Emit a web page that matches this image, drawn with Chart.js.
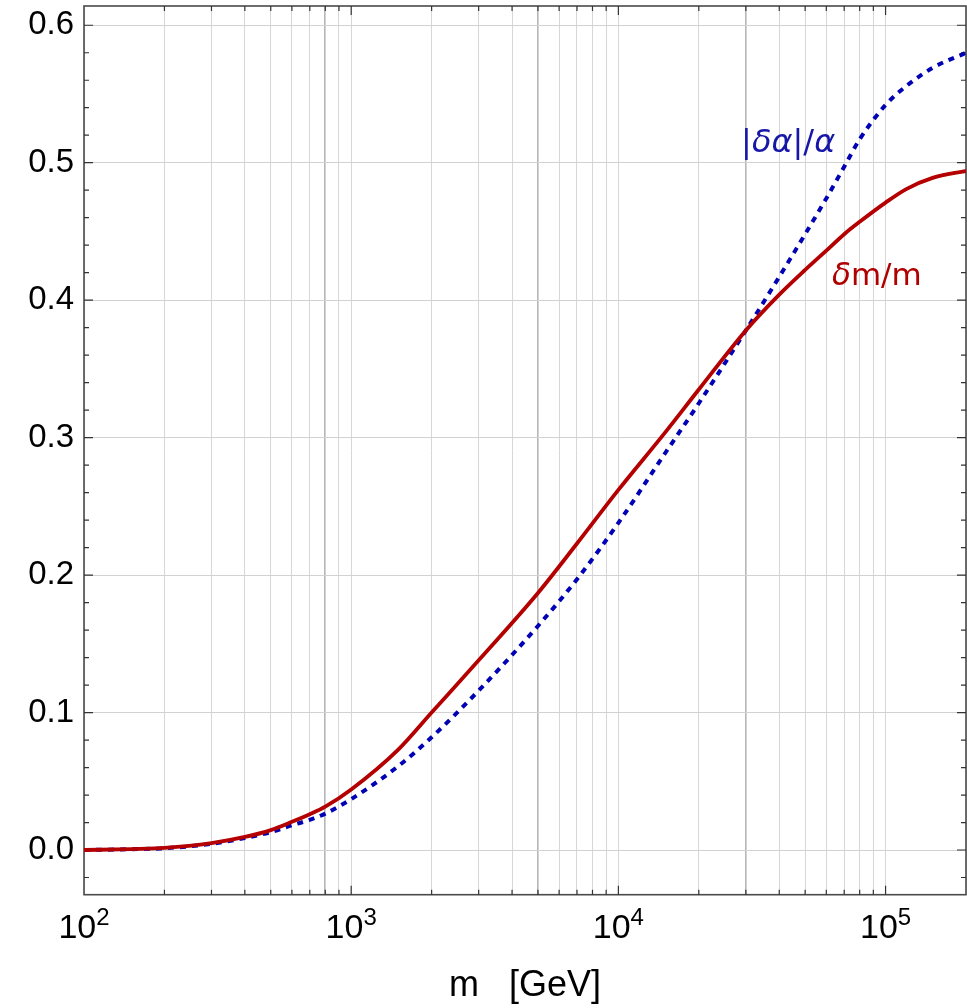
<!DOCTYPE html>
<html lang="en">
<head>
<meta charset="UTF-8">
<title>δm/m and |δα|/α versus m</title>
<script src="https://cdn.jsdelivr.net/npm/chart.js"></script>
<style>
  html, body { margin: 0; padding: 0; background: #fff; }
  .chart-box { position: relative; width: 967px; height: 1008px; }
</style>
</head>
<body>
<div class="chart-box"><canvas id="deltaChart"></canvas></div>
<script>
const massGeV = [100, 150, 200, 300, 400, 500, 600, 700, 800, 1000, 1500, 2000, 3000, 5000, 7000,
                 10000, 15000, 20000, 30000, 40000, 50000, 60000, 70000, 80000, 100000, 120000, 150000, 200000];
// δm/m (solid red)
const deltaM = [0.000, 0.0007, 0.0015, 0.005, 0.0095, 0.0145, 0.0205, 0.026, 0.0315, 0.044, 0.073, 0.100, 0.138, 0.187, 0.223,
                0.262, 0.304, 0.335, 0.378, 0.404, 0.422, 0.436, 0.448, 0.457, 0.471, 0.481, 0.489, 0.494];
// |δα|/α (dotted blue)
const deltaAlpha = [0.000, 0.0006, 0.0013, 0.0045, 0.0088, 0.013, 0.018, 0.022, 0.0265, 0.037, 0.061, 0.082, 0.116, 0.163, 0.197,
                    0.238, 0.289, 0.325, 0.378, 0.417, 0.448, 0.474, 0.497, 0.517, 0.542, 0.556, 0.569, 0.580];

// axis ticks / grid
const xGridValues = [100, 200, 300, 400, 500, 600, 700, 800, 900,
                     1000, 2000, 3000, 4000, 5000, 6000, 7000, 8000, 9000,
                     10000, 20000, 30000, 40000, 50000, 60000, 70000, 80000, 90000,
                     100000, 200000];
const xDecades = [100, 1000, 10000, 100000];
const xStrongLines = [800, 5000, 30000];
const yTicks = [0, 0.1, 0.2, 0.3, 0.4, 0.5, 0.6];

const FONT = '"Liberation Sans", Arial, sans-serif';
const LABEL_FONT = '"DejaVu Sans", sans-serif';

// curve labels, anchored in data coordinates (left edge, baseline)
const curveLabels = [
  { m: 28800, v: 0.508, color: '#1616a8', size: 32,
    parts: [['|', false], ['δα', true], ['|/', false], ['α', true]] },
  { m: 63000, v: 0.411, color: '#b00000', size: 31,
    parts: [['δ', true], ['m/m', false]] }
];

// frame, inward tick marks, decade labels, curve labels
const decorations = {
  id: 'decorations',
  beforeDatasetsDraw(chart) {
    const { ctx, chartArea: a, scales: { x, y } } = chart;
    ctx.save();
    ctx.strokeStyle = '#4a4a4a';
    ctx.lineWidth = 1.6;
    ctx.strokeRect(a.left, a.top, a.right - a.left, a.bottom - a.top);

    ctx.strokeStyle = '#333';
    ctx.lineWidth = 1.2;
    ctx.beginPath();
    xGridValues.forEach(v => {
      const px = x.getPixelForValue(v);
      if (px <= a.left + 1 || px >= a.right - 1) return;
      const len = xDecades.includes(v) ? 9 : 5;
      ctx.moveTo(px, a.bottom); ctx.lineTo(px, a.bottom - len);
      ctx.moveTo(px, a.top); ctx.lineTo(px, a.top + len);
    });
    for (let i = -1; i <= 30; i++) {
      const v = i * 0.02;
      const py = y.getPixelForValue(v);
      if (py <= a.top + 1 || py >= a.bottom - 1) continue;
      const len = i % 5 === 0 ? 9 : 5;
      ctx.moveTo(a.left, py); ctx.lineTo(a.left + len, py);
      ctx.moveTo(a.right, py); ctx.lineTo(a.right - len, py);
    }
    ctx.stroke();
    ctx.restore();
  },
  afterDraw(chart) {
    const { ctx, chartArea: a, scales: { x, y } } = chart;
    ctx.save();
    ctx.fillStyle = '#000';
    ctx.textAlign = 'left';
    ctx.textBaseline = 'alphabetic';
    xDecades.forEach(v => {
      const exp = String(Math.round(Math.log10(v)));
      ctx.font = '34px ' + FONT;
      const wb = ctx.measureText('10').width;
      ctx.font = '24px ' + FONT;
      const we = ctx.measureText(exp).width;
      const left = x.getPixelForValue(v) - (wb + we) / 2;
      ctx.font = '34px ' + FONT;
      ctx.fillText('10', left, a.bottom + 43.5);
      ctx.font = '24px ' + FONT;
      ctx.fillText(exp, left + wb, a.bottom + 30.5);
    });

    curveLabels.forEach(lab => {
      let px = x.getPixelForValue(lab.m);
      const py = y.getPixelForValue(lab.v);
      ctx.fillStyle = lab.color;
      lab.parts.forEach(([txt, italic]) => {
        ctx.font = (italic ? 'italic ' : '') + lab.size + 'px ' + LABEL_FONT;
        ctx.fillText(txt, px, py);
        px += ctx.measureText(txt).width;
      });
    });
    ctx.restore();
  }
};

const ctx = document.getElementById('deltaChart').getContext('2d');
const deltaChart = new Chart(ctx, {
  type: 'line',
  data: {
    datasets: [
      {
        label: 'δm/m',
        data: massGeV.map((m, i) => ({ x: m, y: deltaM[i] })),
        borderColor: '#b40000',
        borderWidth: 3.8,
        cubicInterpolationMode: 'monotone',
        fill: false
      },
      {
        label: '|δα|/α',
        data: massGeV.map((m, i) => ({ x: m, y: deltaAlpha[i] })),
        borderColor: '#0000b4',
        borderWidth: 4,
        borderDash: [6, 6],
        borderCapStyle: 'butt',
        cubicInterpolationMode: 'monotone',
        fill: false
      }
    ]
  },
  options: {
    responsive: true,
    maintainAspectRatio: false,
    animation: false,
    layout: { padding: { top: 6, right: 1, left: 0, bottom: 0 } },
    elements: { point: { radius: 0 } },
    plugins: { legend: { display: false }, tooltip: { enabled: false } },
    scales: {
      x: {
        type: 'logarithmic',
        min: 100,
        max: 200000,
        afterBuildTicks: s => { s.ticks = xGridValues.map(v => ({ value: v })); },
        ticks: { display: false },
        grid: {
          drawTicks: false,
          color: c => xStrongLines.includes(c.tick && c.tick.value) ? '#b6b6b6' : '#d6d6d6',
          lineWidth: c => xStrongLines.includes(c.tick && c.tick.value) ? 1.6 : 1
        },
        border: { display: false },
        title: {
          display: true,
          text: 'm   [GeV]',
          color: '#000',
          font: { family: FONT, size: 36 },
          padding: { top: 0, bottom: 0 }
        },
        afterFit: s => { s.height = 113.3; s.paddingLeft = 0; s.paddingRight = 0; }
      },
      y: {
        min: -0.0325,
        max: 0.614,
        afterBuildTicks: s => { s.ticks = yTicks.map(v => ({ value: v })); },
        ticks: {
          color: '#000',
          padding: 10,
          font: { family: FONT, size: 33 },
          callback: v => Number(v).toFixed(1)
        },
        grid: { drawTicks: false, color: '#d2d2d2', lineWidth: 1 },
        border: { display: false },
        afterFit: s => { s.width = 84; s.paddingTop = 0; s.paddingBottom = 0; }
      }
    }
  },
  plugins: [decorations]
});
</script>
</body>
</html>
